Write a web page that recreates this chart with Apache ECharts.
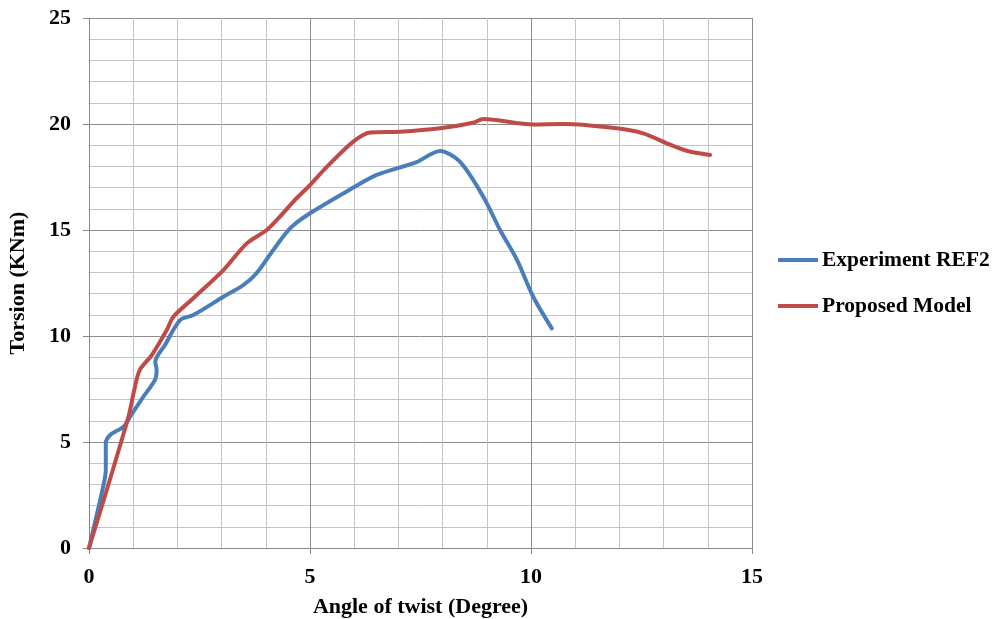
<!DOCTYPE html>
<html><head><meta charset="utf-8">
<script src="https://cdn.jsdelivr.net/npm/echarts@6/dist/echarts.min.js"></script>
<style>html,body{margin:0;padding:0;background:#fff}#c{width:1001px;height:619px}</style>
</head><body><div id="c"></div>
<script>
const experimentX = [0, 0.32, 0.38, 0.38, 0.48, 0.78, 0.93, 1.2, 1.49, 1.53, 1.50, 1.72, 2.06, 2.36, 3.04, 3.49, 3.79, 4.17, 4.55, 5.0, 5.98, 6.51, 7.41, 7.94, 8.39, 8.92, 9.30, 9.68, 10.05, 10.47];
const experimentY = [0, 2.89, 3.68, 4.94, 5.33, 5.72, 6.19, 7.05, 7.92, 8.4, 8.79, 9.58, 10.75, 10.99, 11.85, 12.4, 12.96, 14.06, 15.08, 15.79, 17.0, 17.6, 18.2, 18.73, 18.22, 16.57, 15.0, 13.6, 11.85, 10.36];
const modelX = [0, 0.88, 1.04, 1.15, 1.42, 1.76, 1.91, 2.36, 3.04, 3.57, 4.02, 4.32, 4.66, 5.0, 5.38, 5.98, 6.36, 7.04, 7.94, 8.69, 8.92, 10.05, 10.73, 11.94, 12.54, 13.07, 13.52, 14.05];
const modelY = [0, 6.1, 7.61, 8.4, 9.1, 10.28, 10.91, 11.78, 13.11, 14.37, 15.0, 15.63, 16.42, 17.12, 17.98, 19.17, 19.6, 19.64, 19.8, 20.06, 20.24, 19.98, 20.0, 19.8, 19.56, 19.09, 18.74, 18.54];
const seriesNames = ['Experiment REF2', 'Proposed Model'];
const xTitle = 'Angle of twist (Degree)';
const yTitle = 'Torsion (KNm)';

const zip = (a, b) => a.map((v, i) => [v, b[i]]);
const font = {fontFamily: '"Liberation Serif", "Times New Roman", serif', fontWeight: 'bold', color: '#000'};
const chart = echarts.init(document.getElementById('c'));
chart.setOption({
  animation: false,
  grid: {left: 89, top: 18, width: 663, height: 530, containLabel: false, outerBoundsMode: 'none'},
  legend: {
    orient: 'vertical', left: 773, top: 244, itemGap: 24, itemWidth: 40, itemHeight: 4,
    icon: 'rect',
    textStyle: Object.assign({fontSize: 21.5, padding: [0, 0, 0, -1]}, font),
    data: seriesNames
  },
  xAxis: {
    type: 'value', min: 0, max: 15, interval: 5,
    name: xTitle, nameLocation: 'middle', nameGap: 48,
    nameTextStyle: Object.assign({fontSize: 22}, font),
    axisLine: {show: true, lineStyle: {color: '#868686', width: 1}},
    axisTick: {show: true, length: 6, lineStyle: {color: '#868686'}},
    axisLabel: Object.assign({fontSize: 22, margin: 18}, font),
    splitLine: {show: true, lineStyle: {color: '#8c8c8c', width: 1}},
    minorTick: {show: false, splitNumber: 5},
    minorSplitLine: {show: true, lineStyle: {color: '#c4c4c4', width: 1}}
  },
  yAxis: {
    type: 'value', min: 0, max: 25, interval: 5,
    name: yTitle, nameLocation: 'middle', nameGap: 60, nameRotate: 90,
    nameTextStyle: Object.assign({fontSize: 22}, font),
    axisLine: {show: true, lineStyle: {color: '#868686', width: 1}},
    axisTick: {show: true, length: 6, lineStyle: {color: '#868686'}},
    axisLabel: Object.assign({fontSize: 22, margin: 18}, font),
    splitLine: {show: true, lineStyle: {color: '#8c8c8c', width: 1}},
    minorTick: {show: false, splitNumber: 5},
    minorSplitLine: {show: true, lineStyle: {color: '#c4c4c4', width: 1}}
  },
  series: [
    {name: seriesNames[0], type: 'line', smooth: 0.3, showSymbol: false, symbol: 'none',
     lineStyle: {width: 4, color: '#4A7EBB', cap: 'round'}, itemStyle: {color: '#4A7EBB'},
     data: zip(experimentX, experimentY)},
    {name: seriesNames[1], type: 'line', smooth: 0.3, showSymbol: false, symbol: 'none',
     lineStyle: {width: 4, color: '#BE4B48', cap: 'round'}, itemStyle: {color: '#BE4B48'},
     data: zip(modelX, modelY)}
  ]
});
</script></body></html>
